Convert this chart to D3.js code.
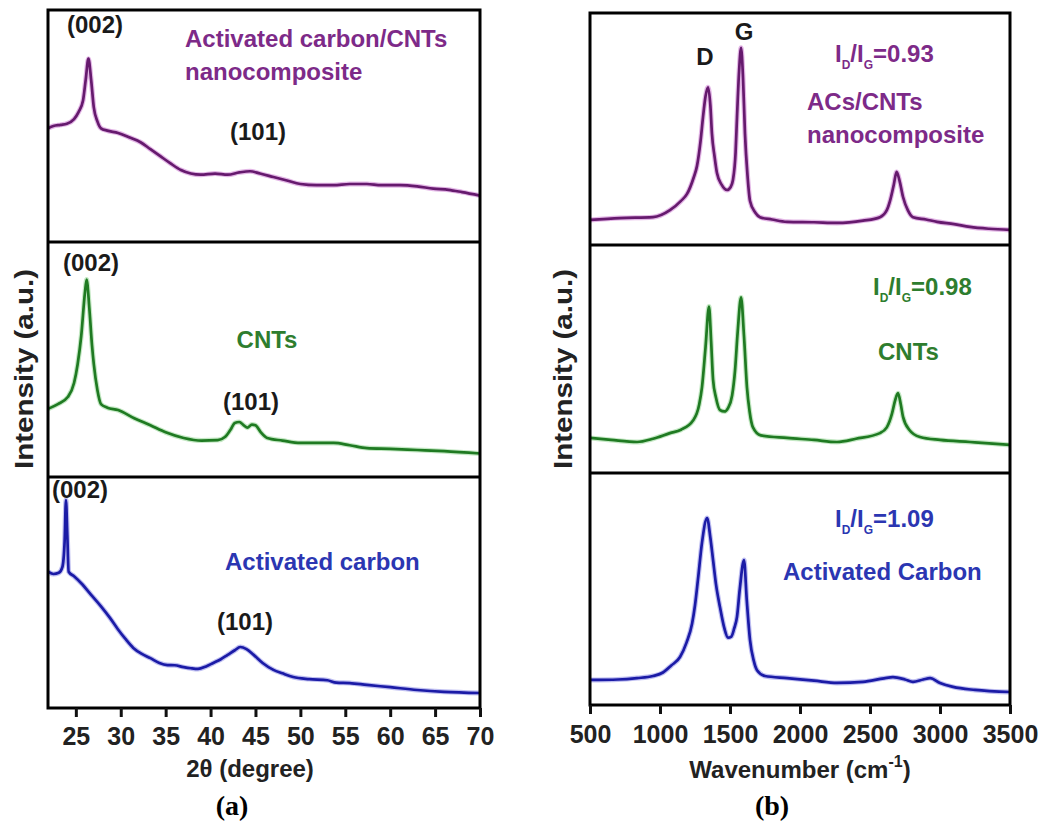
<!DOCTYPE html>
<html>
<head>
<meta charset="utf-8">
<script src="https://cdn.jsdelivr.net/npm/d3@7"></script>
<style>
  body { margin: 0; background: #fff; }
  svg text { font-family: "Liberation Sans", Arial, sans-serif; font-weight: bold; }
</style>
</head>
<body>
<div id="chart"></div>
<script>
// ---- data: [x, intensity (0-100 of its panel)] ----
const xrdTicks = [25, 30, 35, 40, 45, 50, 55, 60, 65, 70];
const ramanTicks = [500, 1000, 1500, 2000, 2500, 3000, 3500];

const xrdComposite = [[21.9,49],[22.5,50],[23.3,50.5],[24,51],[24.8,53],[25.3,56],[25.8,61],[26.1,70],[26.4,79],[26.7,70],[27.0,58],[27.4,52],[27.8,49],[28.5,48],[29.7,47],[31,45],[32.2,43],[33.3,40],[34.4,37],[35.5,34],[36.7,31],[37.8,29.5],[38.9,29],[40.5,29.5],[41.9,29],[43.2,30],[44.4,30.5],[45.5,29.5],[47,28],[48.5,26.5],[50,25],[51.8,24.5],[53.7,24.5],[55.5,25],[57.4,25],[59,24.5],[61.1,24.5],[63,24],[64.8,23],[66.5,22.5],[68,21.5],[70,20]];
const xrdCNT = [[21.9,29],[23,31],[24.1,34],[24.8,40],[25.2,48],[25.6,60],[26.0,78],[26.2,84],[26.5,72],[26.8,56],[27,48],[27.4,37],[27.8,31],[28.5,29.5],[29.7,28.5],[31.5,25],[33.3,22],[35,19],[37,16.6],[39,15.5],[40.8,15.7],[41.6,17],[42.2,20],[42.7,23],[43.2,23.4],[43.7,22],[44.1,21],[44.6,22.3],[45,22],[45.6,19],[46.3,16.6],[48,15.5],[50,14.5],[52,14.5],[53.7,14.5],[55.5,13.5],[57.4,12.3],[60,12],[63,11.5],[66,11],[70,10]];
const xrdAC = [[21.9,59],[22.5,58],[23.1,58.5],[23.5,61],[23.75,72],[23.9,90],[24.05,75],[24.2,59],[24.8,57],[25.6,54],[26.7,49],[27.8,44],[28.8,39],[29.7,34],[30.5,30],[31.4,26],[32.3,23.5],[33.3,21.6],[34.3,19.5],[35.2,18.6],[36,18.5],[37,17.7],[37.8,17.2],[38.6,16.9],[39.5,18],[40.3,19.5],[41.1,21],[41.9,23],[42.7,25],[43.3,26.4],[44,25.5],[44.8,23],[45.8,19.5],[47,16.5],[48,15],[49.2,13.4],[51,12.5],[53,12],[54,11],[55.5,10.8],[57.4,10],[60,9],[63,7.8],[66,7],[70,6.5]];

const ramanComposite = [[500,10.8],[714,11.6],[950,12],[1071,15],[1150,19],[1193,22],[1240,29],[1264,34],[1290,45],[1307,55],[1325,64],[1343,68],[1360,60],[1371,48],[1390,38],[1407,31],[1440,26],[1479,23.7],[1505,25],[1521,28],[1540,40],[1550,55],[1565,75],[1579,85],[1593,72],[1607,48],[1625,30],[1643,19],[1680,14],[1714,12],[1800,11],[1907,10],[2100,9.8],[2264,9.5],[2450,10.5],[2571,12],[2620,15],[2643,19],[2670,26],[2690,31.5],[2710,28],[2736,20.7],[2770,15],[2807,12],[2900,11],[2979,10],[3100,9],[3214,7.8],[3350,7],[3500,6.5]];
const ramanCNT = [[500,15.4],[650,14.5],[836,13.6],[950,15],[1071,17.5],[1150,19],[1236,23],[1280,30],[1300,37.7],[1325,55],[1350,73],[1365,58],[1379,41],[1400,33],[1429,27.6],[1460,27],[1486,28.5],[1515,34],[1536,45],[1555,62],[1579,77],[1600,60],[1621,37.7],[1640,27],[1664,20],[1720,16.5],[1907,15.4],[2100,14.5],[2264,13.6],[2400,15],[2571,17.5],[2620,20],[2657,26],[2680,32],[2700,35],[2720,30],[2736,24.6],[2780,19],[2857,15.8],[3000,14.5],[3214,13.6],[3350,13],[3500,12.3]];
const ramanAC = [[500,10.8],[700,11],[836,11.6],[950,12.5],[1021,14],[1080,17],[1143,20.7],[1190,27],[1229,35],[1250,43],[1271,54],[1300,70],[1336,80.6],[1360,72],[1379,62.5],[1400,52],[1429,42],[1460,33],[1486,29],[1510,29.5],[1530,33],[1550,38],[1570,50],[1600,62.5],[1620,45],[1643,28],[1670,19],[1693,15],[1750,12.5],[1907,11.6],[2100,10.5],[2264,9.5],[2450,10],[2600,11.5],[2664,12],[2750,11],[2807,10],[2880,11],[2929,11.6],[3000,9.5],[3093,7.8],[3250,6.5],[3500,5.6]];

const ramanRatios = ['0.93', '0.98', '1.09'];

const lineColors = ['#661a6e', '#1f7a22', '#1b1ba6'];
const haloColors = ['#c060c8', '#7ccc7c', '#7070e0'];
const textColors = ['#7d2a88', '#2e7d2e', '#2b36b2'];

const W = 1047, H = 827;
const svg = d3.select('#chart').append('svg').attr('width', W).attr('height', H);
svg.append('rect').attr('width', W).attr('height', H).attr('fill', '#fff');

// draws one stacked figure (3 panels sharing x)
function drawFigure(o) {
  const g = svg.append('g');
  const x = d3.scaleLinear().domain(o.domain).range([o.x0, o.x1]);
  const top = o.bands[0][0], bottom = o.bands[2][1];

  o.series.forEach((data, i) => {
    const [t, b] = o.bands[i];
    const y = d3.scaleLinear().domain([0, 100]).range([b, t]);
    const clipId = `${o.id}-clip-${i}`;
    g.append('clipPath').attr('id', clipId)
      .append('rect').attr('x', o.x0).attr('y', t).attr('width', o.x1 - o.x0).attr('height', b - t);
    const line = d3.line().x(d => x(d[0])).y(d => y(d[1])).curve(d3.curveMonotoneX);
    const cg = g.append('g').attr('clip-path', `url(#${clipId})`);
    cg.append('path').datum(data).attr('d', line)
      .attr('fill', 'none').attr('stroke', haloColors[i]).attr('stroke-opacity', 0.45)
      .attr('stroke-width', 5).attr('stroke-linejoin', 'round');
    cg.append('path').datum(data).attr('d', line)
      .attr('fill', 'none').attr('stroke', lineColors[i])
      .attr('stroke-width', 2.7).attr('stroke-linejoin', 'round');
  });

  // frame + dividers
  g.append('rect').attr('x', o.x0).attr('y', top).attr('width', o.x1 - o.x0).attr('height', bottom - top)
    .attr('fill', 'none').attr('stroke', '#000').attr('stroke-width', 3);
  [o.bands[0][1], o.bands[1][1]].forEach(yy => {
    g.append('line').attr('x1', o.x0).attr('x2', o.x1).attr('y1', yy).attr('y2', yy)
      .attr('stroke', '#000').attr('stroke-width', 3);
  });

  // x axis
  g.append('g').attr('transform', `translate(0,${bottom})`)
    .call(d3.axisBottom(x).tickValues(o.ticks).tickSize(9).tickSizeOuter(0).tickPadding(o.tickPad).tickFormat(d3.format('d')))
    .call(a => a.select('.domain').remove())
    .call(a => a.selectAll('.tick line').attr('stroke', '#111').attr('stroke-width', 3))
    .call(a => a.selectAll('.tick text').attr('fill', '#222').attr('font-size', 25)
      .attr('font-family', '"Liberation Sans", Arial, sans-serif').attr('font-weight', 'bold'));

  return { g, x };
}

function label(g, txt, xx, yy, color, anchor, size) {
  return g.append('text').attr('x', xx).attr('y', yy).attr('fill', color || '#1a1a1a')
    .attr('text-anchor', anchor || 'start').attr('font-size', size || 24).text(txt);
}

function ratioLabel(g, xx, yy, val, color) {
  const t = g.append('text').attr('x', xx).attr('y', yy).attr('fill', color).attr('font-size', 24);
  t.append('tspan').text('I');
  t.append('tspan').attr('font-size', 12).attr('dy', 7).text('D');
  t.append('tspan').attr('dy', -7).text('/I');
  t.append('tspan').attr('font-size', 12).attr('dy', 7).text('G');
  t.append('tspan').attr('dy', -7).text('=' + val);
}

function yTitle(g, xx, yy) {
  g.append('text').attr('x', xx).attr('y', yy).attr('transform', `rotate(-90,${xx},${yy})`)
    .attr('text-anchor', 'middle').attr('font-size', 25).attr('fill', '#222')
    .attr('textLength', 200).attr('lengthAdjust', 'spacingAndGlyphs').text('Intensity (a.u.)');
}

function panelTag(g, txt, xx, yy) {
  g.append('text').attr('x', xx).attr('y', yy).attr('text-anchor', 'middle')
    .style('font-family', '"Liberation Serif", "Times New Roman", serif')
    .attr('font-size', 28).attr('fill', '#000').text(txt);
}

// ---- (a) XRD ----
const A = drawFigure({
  id: 'xrd', x0: 48, x1: 480, domain: [21.9, 70], ticks: xrdTicks, tickPad: 10,
  bands: [[10, 242], [242, 477], [477, 708]],
  series: [xrdComposite, xrdCNT, xrdAC]
});
label(A.g, '(002)', 95, 33, null, 'middle');
label(A.g, 'Activated carbon/CNTs', 185, 47, textColors[0]);
label(A.g, 'nanocomposite', 185, 80, textColors[0]);
label(A.g, '(101)', 258, 140, null, 'middle');
label(A.g, '(002)', 91, 271, null, 'middle');
label(A.g, 'CNTs', 267, 348, textColors[1], 'middle');
label(A.g, '(101)', 251, 410, null, 'middle');
label(A.g, '(002)', 80, 498, null, 'middle');
label(A.g, 'Activated carbon', 225, 570, textColors[2]);
label(A.g, '(101)', 245, 630, null, 'middle');
label(A.g, '2θ (degree)', 250, 777, '#222', 'middle', 24);
yTitle(A.g, 33, 369);
panelTag(A.g, '(a)', 232, 815);

// ---- (b) Raman ----
const B = drawFigure({
  id: 'raman', x0: 590, x1: 1010, domain: [500, 3500], ticks: ramanTicks, tickPad: 11,
  bands: [[13, 245], [245, 473], [473, 705]],
  series: [ramanComposite, ramanCNT, ramanAC]
});
label(B.g, 'D', 705, 65, null, 'middle');
label(B.g, 'G', 744, 40, null, 'middle');
ratioLabel(B.g, 835, 62, ramanRatios[0], textColors[0]);
label(B.g, 'ACs/CNTs', 807, 110, textColors[0]);
label(B.g, 'nanocomposite', 807, 143, textColors[0]);
ratioLabel(B.g, 873, 295, ramanRatios[1], textColors[1]);
label(B.g, 'CNTs', 878, 360, textColors[1]);
ratioLabel(B.g, 835, 527, ramanRatios[2], textColors[2]);
label(B.g, 'Activated Carbon', 783, 580, textColors[2]);
const wl = label(B.g, 'Wavenumber (cm', 800, 778, '#222', 'middle', 24);
wl.append('tspan').attr('font-size', 16).attr('dy', -11).text('-1');
wl.append('tspan').attr('dy', 11).text(')');
yTitle(B.g, 572, 369);
panelTag(B.g, '(b)', 772, 815);
</script>
</body>
</html>
